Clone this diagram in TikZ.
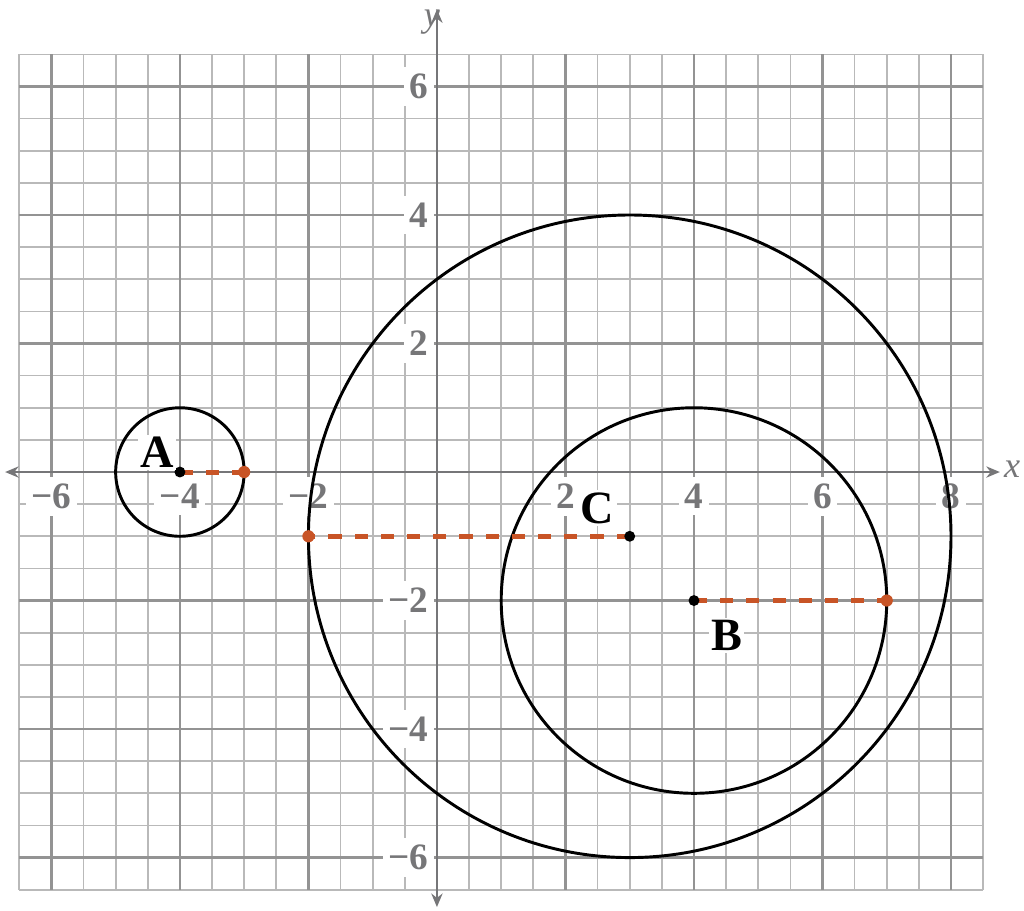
\documentclass[tikz,border=0pt]{standalone}
\usepackage{fontspec}
\setmainfont{Liberation Serif}
\usepackage{tikz}
\usetikzlibrary{arrows.meta}
\definecolor{rustorange}{RGB}{200,84,38}
\definecolor{axisgray}{RGB}{118,118,120}
\tikzset{
	minor grid/.style={line width=0.75pt, draw=gray!55},
	major grid/.style={line width=1.2pt, draw=gray!85},
	axis line/.style={line width=0.9pt, axisgray, {Stealth[length=6pt,width=5pt]}-{Stealth[length=6pt,width=5pt]}},
	radius line/.style={line width=2.2pt, rustorange, dash pattern=on 5.8pt off 5.8pt},
	ring/.style={line width=1.3pt, black},
	ticklabel/.style={fill=white, text=axisgray, inner xsep=2.5pt, inner ysep=3pt, font=\bfseries\fontsize{16.5}{16.5}\selectfont},
	axislabel/.style={text=axisgray, inner sep=0pt, font=\itshape\fontsize{16}{16}\selectfont},
	ptlabel/.style={fill=white, inner sep=1pt, font=\bfseries\fontsize{20.5}{20.5}\selectfont}
}
\newcommand{\blackpt}[1]{\fill[black] (#1) circle (0.085);}
\newcommand{\rustpt}[1]{\fill[rustorange] (#1) circle (0.095);}

\begin{document}
\begin{tikzpicture}
	\useasboundingbox (-6.80,-6.817) rectangle (9.136,7.346);
	% grid
	\draw[minor grid] (-6.5,-6.5) grid[step=0.5] (8.5,6.5);
	\draw[major grid] (-6.5,-6.5) grid[step=2] (8.5,6.5);
	% axes
	\draw[axis line] (-6.72,0) -- (8.76,0);
	\draw[axis line] (0,-6.77) -- (0,7.2);
	\node[axislabel] (xlab) at (8.95,0.04) {x};
	\node[axislabel] (ylab) at (-0.08,7.0) {y};
	\foreach \t/\s in {-6/−6,-4/−4,-2/−2,2/2,4/4,6/6,8/8}
		\node[ticklabel] (xt\t) at (\t,-0.38) {\s};
	\foreach \t/\s in {6/6,4/4,2/2,-2/−2,-4/−4,-6/−6}
		\node[ticklabel, anchor=east] (yt\t) at (-0.04,\t) {\s};
	% centres and radius ends
	\coordinate (A) at (-4,0);
	\coordinate (Aend) at (-3,0);
	\coordinate (C) at (3,-1);
	\coordinate (Cend) at (-2,-1);
	\coordinate (B) at (4,-2);
	\coordinate (Bend) at (7,-2);
	% circles
	\draw[ring] (A) circle (1);
	\draw[ring] (C) circle (5);
	\draw[ring] (B) circle (3);
	% radii
	\draw[radius line] (A) -- (Aend);
	\draw[radius line] (C) -- (Cend);
	\draw[radius line] (B) -- (Bend);
	\blackpt{A} \blackpt{C} \blackpt{B}
	\rustpt{Aend} \rustpt{Cend} \rustpt{Bend}
	\node[ptlabel] (Alab) at (-4.36,0.31) {A};
	\node[ptlabel] (Clab) at (2.5,-0.56) {C};
	\node[ptlabel] (Blab) at (4.51,-2.54) {B};
\end{tikzpicture}
\end{document}
